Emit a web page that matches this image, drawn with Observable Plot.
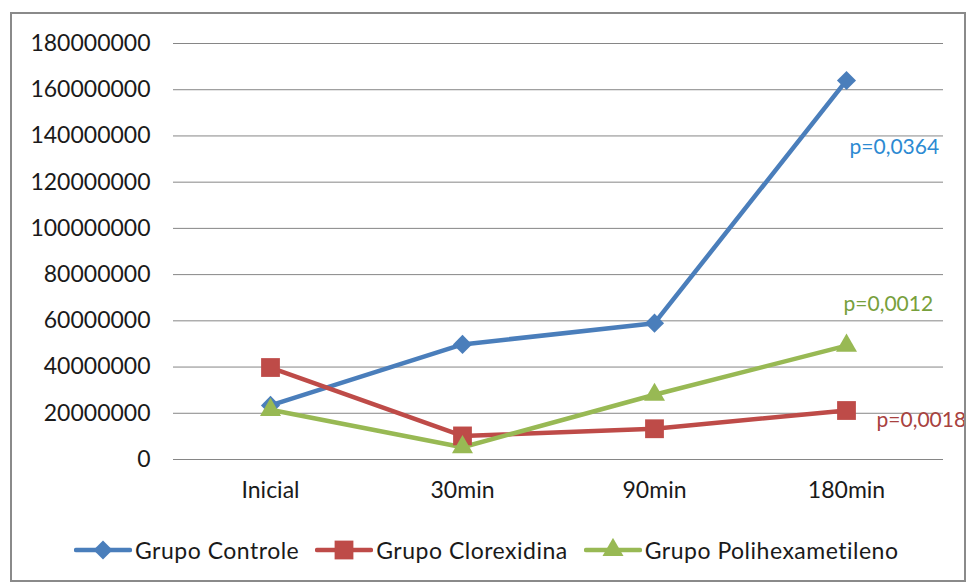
<!DOCTYPE html>
<html>
<head>
<meta charset="utf-8">
<script src="https://cdn.jsdelivr.net/npm/d3@7"></script>
<script src="https://cdn.jsdelivr.net/npm/@observablehq/plot@0.6"></script>
<style>
  body { margin: 0; background: #fff; font-family: Lato, "Open Sans", sans-serif; }
  #wrap { position: relative; width: 971px; height: 584px; overflow: hidden; }
  #frame { position: absolute; left: 10px; top: 12px; width: 956px; height: 570px;
           border: 2px solid #8a8a8a; box-sizing: border-box; pointer-events: none; }
  #chart { position: absolute; left: 0; top: 0; }
  #legend { position: absolute; left: 74px; top: 536px; display: flex; align-items: center;
            font-size: 23px; letter-spacing: 0.5px; color: #1a1a1a; white-space: nowrap; }
  #legend .item { display: flex; align-items: center; margin-right: 16px; }
  #legend svg { display: block; margin-right: 3px; }
</style>
</head>
<body>
<div id="wrap">
  <div id="chart"></div>
  <div id="legend"></div>
  <div id="frame"></div>
</div>
<script>
// Time points of the measurement
const periods = ["Inicial", "30min", "90min", "180min"];

// Counts per group at each time point
const controle    = [23400000, 49800000, 59000000, 164000000];
const clorexidina = [39800000, 10200000, 13300000, 21200000];
const polihex     = [21500000,  5300000, 28000000,  49300000];

const seriesNames = ["Grupo Controle", "Grupo Clorexidina", "Grupo Polihexametileno"];
const seriesValues = [controle, clorexidina, polihex];

// Significance of each group's change
const pValues = ["p=0,0364", "p=0,0018", "p=0,0012"];

// Y-axis ticks
const yTicks = [0, 20000000, 40000000, 60000000, 80000000, 100000000, 120000000, 140000000, 160000000, 180000000];

const colors = ["#4A7EBB", "#BE4B48", "#98B954"];
const labelColors = ["#2C8AD2", "#A8423F", "#77A03C"];
const symbols = ["diamond2", "square", "triangle"];
const radii = [8.6, 10.6, 7.8];
// offsets of each p-value label from its last point
const labelOffsets = [{dx: 3, dy: 67}, {dx: 30, dy: 10}, {dx: -3, dy: -41}];

const rows = seriesNames.flatMap((name, i) =>
  periods.map((p, j) => ({series: name, period: p, value: seriesValues[i][j]}))
);
const lastRows = seriesNames.map((name, i) => ({
  series: name, period: periods[periods.length - 1],
  value: seriesValues[i][periods.length - 1], label: pValues[i]
}));

const font = "Lato, 'Open Sans', sans-serif";

const marks = [
  Plot.gridY(yTicks, {stroke: "#868686", strokeOpacity: 1, strokeWidth: 1}),
  Plot.axisY(yTicks, {tickSize: 0, tickPadding: 23, fontSize: 23, fill: "#1a1a1a",
                      tickFormat: d => d.toFixed(0), label: null}),
  Plot.axisX({tickSize: 0, tickPadding: 22, fontSize: 23, fill: "#1a1a1a", label: null})
];

seriesNames.forEach((name, i) => {
  const data = rows.filter(d => d.series === name);
  marks.push(Plot.line(data, {x: "period", y: "value", stroke: colors[i], strokeWidth: 4.5,
                              strokeLinejoin: "round", strokeLinecap: "round"}));
});
seriesNames.forEach((name, i) => {
  const data = rows.filter(d => d.series === name);
  marks.push(Plot.dot(data, {x: "period", y: "value", symbol: () => symbols[i],
                             r: radii[i], fill: colors[i], stroke: "none"}));
});
lastRows.forEach((d, i) => {
  marks.push(Plot.text([d], {x: "period", y: "value", text: "label", fill: labelColors[i],
                             fontSize: 21, textAnchor: "start",
                             dx: labelOffsets[i].dx, dy: labelOffsets[i].dy}));
});

const chart = Plot.plot({
  width: 971,
  height: 520,
  marginLeft: 173,
  marginRight: 28,
  marginTop: 43,
  marginBottom: 61,
  style: {fontFamily: font, background: "transparent", overflow: "visible"},
  x: {type: "point", domain: periods, padding: 0.5},
  y: {domain: [0, 180000000]},
  symbol: {type: "identity"},
  marks
});
document.getElementById("chart").appendChild(chart);

// Legend: line sample with the series marker, then the name
const legend = d3.select("#legend");
seriesNames.forEach((name, i) => {
  const item = legend.append("div").attr("class", "item");
  const svg = item.append("svg").attr("width", 58).attr("height", 24);
  svg.append("line").attr("x1", 2).attr("x2", 56).attr("y1", 12).attr("y2", 12)
     .attr("stroke", colors[i]).attr("stroke-width", 4.5).attr("stroke-linecap", "round");
  const sym = {diamond2: d3.symbolDiamond2, square: d3.symbolSquare, triangle: d3.symbolTriangle}[symbols[i]];
  svg.append("path").attr("transform", "translate(29,12)")
     .attr("d", d3.symbol(sym, Math.PI * radii[i] * radii[i])())
     .attr("fill", colors[i]);
  item.append("span").text(name);
});
</script>
</body>
</html>
